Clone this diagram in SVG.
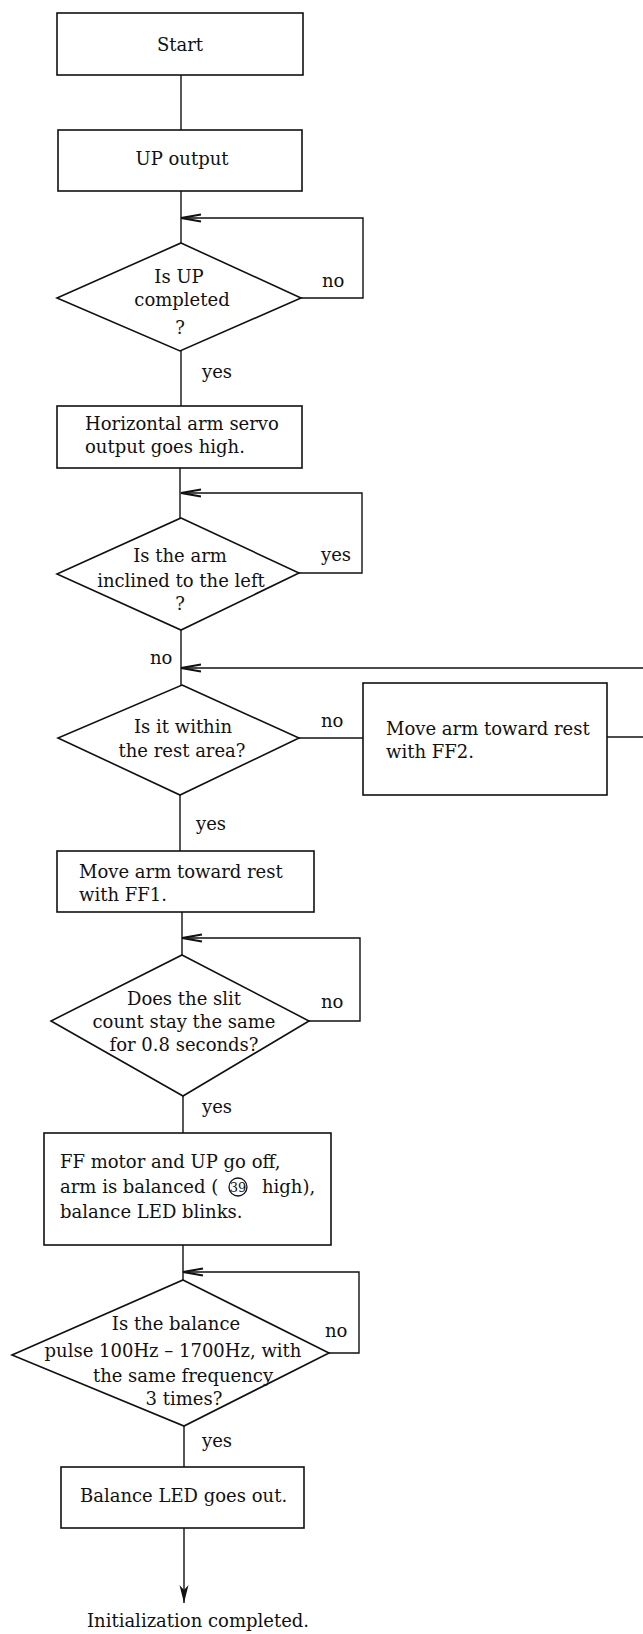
<svg xmlns="http://www.w3.org/2000/svg" width="643" height="1634" viewBox="0 0 643 1634">
<defs>
<style>
.n{fill:#fff;stroke:#111;stroke-width:1.6}
.c{fill:none;stroke:#111;stroke-width:1.4}
text{font-family:"DejaVu Serif","Liberation Serif",serif;font-size:18px;fill:#111}
.m{text-anchor:middle}
</style>
<marker id="ar" markerUnits="userSpaceOnUse" markerWidth="24" markerHeight="12" viewBox="-22 -6 24 12" refX="0" refY="0" orient="auto">
<path d="M-20,-3.5 L0,0 L-20,3.5" fill="none" stroke="#111" stroke-width="2"/>
</marker>
<marker id="af" markerUnits="userSpaceOnUse" markerWidth="12" markerHeight="22" viewBox="-6 -20 12 22" refX="0" refY="0" orient="0">
<path d="M0,0 L-4.5,-18 L0,-13 L4.5,-18 Z" fill="#111"/>
</marker>
</defs>
<rect width="643" height="1634" fill="#fff"/>
<g id="connectors">
<path class="c" d="M181,75 V130"/>
<path class="c" d="M181,191 V243"/>
<path class="c" d="M301,298 H363 V218 H181" marker-end="url(#ar)"/>
<path class="c" d="M181,351 V406"/>
<path class="c" d="M180,468 V518"/>
<path class="c" d="M299,573 H362 V493 H181" marker-end="url(#ar)"/>
<path class="c" d="M181,630 V685"/>
<path class="c" d="M643,668 H181" marker-end="url(#ar)"/>
<path class="c" d="M299,738 H363"/>
<path class="c" d="M607,737 H643"/>
<path class="c" d="M180,795 V851"/>
<path class="c" d="M182,912 V955"/>
<path class="c" d="M309,1021 H360 V938 H182" marker-end="url(#ar)"/>
<path class="c" d="M183,1096 V1133"/>
<path class="c" d="M183,1245 V1280"/>
<path class="c" d="M329,1353 H359 V1272 H183" marker-end="url(#ar)"/>
<path class="c" d="M184,1426 V1467"/>
<path class="c" d="M184,1528 V1603" marker-end="url(#af)"/>
</g>
<g id="start">
<rect class="n" x="57" y="13" width="246" height="62"/>
<text class="m" x="180" y="51">Start</text>
</g>
<g id="up-output">
<rect class="n" x="58" y="130" width="244" height="61"/>
<text class="m" x="182" y="165">UP output</text>
</g>
<g id="d-up-completed">
<polygon class="n" points="181,243 301,298 180,351 57,298"/>
<text class="m" x="179" y="283">Is UP</text>
<text class="m" x="182" y="306">completed</text>
<text class="m" x="180" y="334">?</text>
</g>
<text x="322" y="287">no</text>
<text x="202" y="378">yes</text>
<g id="servo-high">
<rect class="n" x="57" y="406" width="245" height="62"/>
<text x="85" y="430">Horizontal arm servo</text>
<text x="85" y="453">output goes high.</text>
</g>
<g id="d-inclined">
<polygon class="n" points="181,518 299,573 181,630 57,574"/>
<text class="m" x="180" y="562">Is the arm</text>
<text class="m" x="181" y="587">inclined to the left</text>
<text class="m" x="180" y="610">?</text>
</g>
<text x="321" y="561">yes</text>
<text x="150" y="664">no</text>
<g id="d-rest-area">
<polygon class="n" points="182,685 299,738 180,795 58,738"/>
<text class="m" x="183" y="733">Is it within</text>
<text class="m" x="182" y="757">the rest area?</text>
</g>
<text x="321" y="727">no</text>
<g id="ff2">
<rect class="n" x="363" y="683" width="244" height="112"/>
<text x="386" y="735">Move arm toward rest</text>
<text x="386" y="758">with FF2.</text>
</g>
<text x="196" y="830">yes</text>
<g id="ff1">
<rect class="n" x="57" y="851" width="257" height="61"/>
<text x="79" y="878">Move arm toward rest</text>
<text x="79" y="901">with FF1.</text>
</g>
<g id="d-slit">
<polygon class="n" points="182,955 309,1021 183,1096 51,1021"/>
<text class="m" x="184" y="1005">Does the slit</text>
<text class="m" x="184" y="1028">count stay the same</text>
<text class="m" x="184" y="1051">for 0.8 seconds?</text>
</g>
<text x="321" y="1008">no</text>
<text x="202" y="1113">yes</text>
<g id="balanced">
<rect class="n" x="44" y="1133" width="287" height="112"/>
<text x="60" y="1168">FF motor and UP go off,</text>
<text x="60" y="1193">arm is balanced (</text>
<circle cx="238" cy="1187" r="9" fill="none" stroke="#111" stroke-width="1.3"/>
<text class="m" x="238" y="1192" style="font-size:13px">39</text>
<text x="262" y="1193">high),</text>
<text x="60" y="1218">balance LED blinks.</text>
</g>
<g id="d-pulse">
<polygon class="n" points="183,1280 329,1353 184,1426 12,1355"/>
<text class="m" x="176" y="1330">Is the balance</text>
<text class="m" x="173" y="1357">pulse 100Hz – 1700Hz, with</text>
<text class="m" x="183" y="1382">the same frequency</text>
<text class="m" x="184" y="1405">3 times?</text>
</g>
<text x="325" y="1337">no</text>
<text x="202" y="1447">yes</text>
<g id="led-out">
<rect class="n" x="61" y="1467" width="243" height="61"/>
<text x="80" y="1502">Balance LED goes out.</text>
</g>
<text class="m" x="198" y="1627">Initialization completed.</text>
</svg>
